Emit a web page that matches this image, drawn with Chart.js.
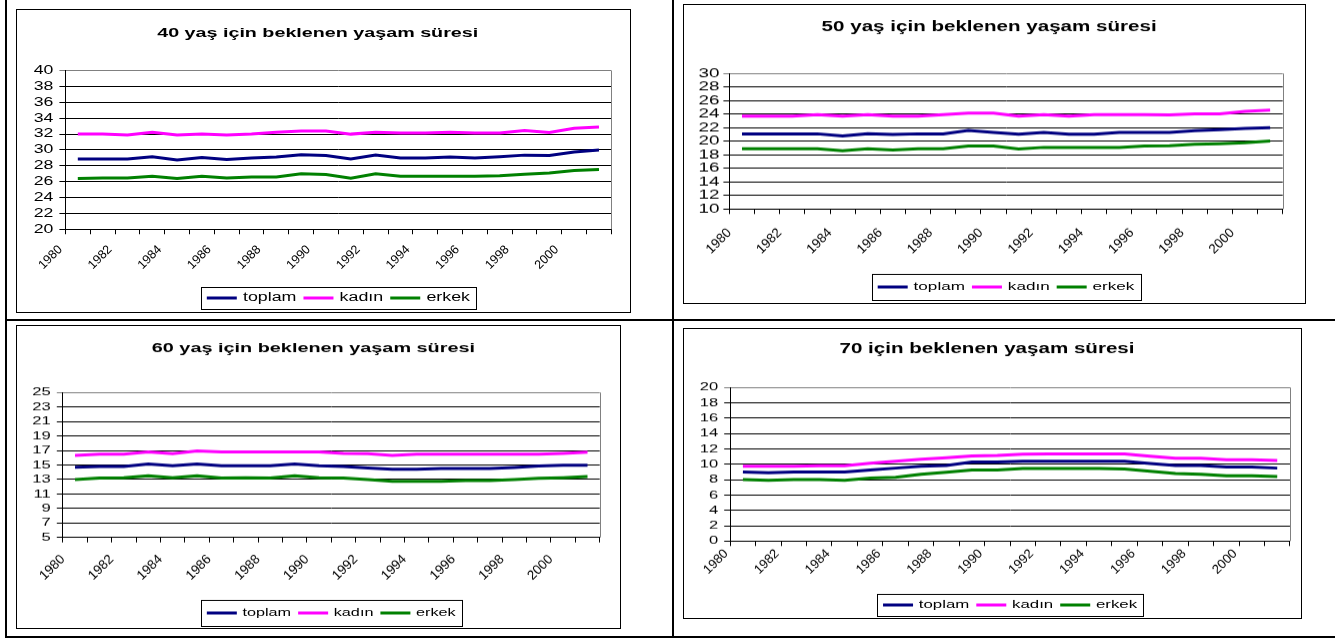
<!DOCTYPE html>
<html>
<head>
<meta charset="utf-8">
<title>Beklenen yaşam süresi</title>
<script src="https://cdn.jsdelivr.net/npm/chart.js@4/dist/chart.umd.min.js"></script>
<style>
  html, body { margin: 0; padding: 0; background: #fff; }
  body { width: 1335px; height: 641px; position: relative; overflow: hidden; }
  .rule { position: absolute; background: #000; }
  .frame { position: absolute; border: 1px solid #000; box-sizing: border-box; pointer-events: none; z-index: 2; }
  .holder { position: absolute; }
</style>
</head>
<body>
<!-- table rules -->
<div class="rule" style="left:5px;top:0;width:2px;height:638px"></div>
<div class="rule" style="left:672px;top:0;width:2px;height:638px"></div>
<div class="rule" style="left:5px;top:319px;width:1330px;height:2px"></div>
<div class="rule" style="left:5px;top:636px;width:1330px;height:2px"></div>

<script>
// ---- data ----
const years = [1980, 1981, 1982, 1983, 1984, 1985, 1986, 1987, 1988, 1989, 1990,
               1991, 1992, 1993, 1994, 1995, 1996, 1997, 1998, 1999, 2000, 2001];
const yearTicks = [1980, 1981, 1982, 1983, 1984, 1985, 1986, 1987, 1988, 1989, 1990, 1991,
                   1992, 1993, 1994, 1995, 1996, 1997, 1998, 1999, 2000, 2001, 2002];
const yearLabels = [1980, 1982, 1984, 1986, 1988, 1990, 1992, 1994, 1996, 1998, 2000];
const seriesNames = ['toplam', 'kadın', 'erkek'];

const toplam40 = [28.85, 28.85, 28.85, 29.15, 28.75, 29.05, 28.8, 29.0, 29.1, 29.4, 29.3,
                  28.85, 29.35, 29.0, 29.0, 29.1, 29.0, 29.15, 29.35, 29.3, 29.75, 30.0];
const kadin40  = [32.0, 32.0, 31.9, 32.25, 31.9, 32.0, 31.9, 32.0, 32.25, 32.4, 32.4,
                  32.0, 32.25, 32.15, 32.15, 32.25, 32.15, 32.15, 32.45, 32.2, 32.75, 32.9];
const erkek40  = [26.4, 26.45, 26.45, 26.7, 26.4, 26.7, 26.45, 26.6, 26.6, 27.0, 26.9,
                  26.45, 27.0, 26.7, 26.7, 26.7, 26.7, 26.75, 26.95, 27.1, 27.4, 27.55];
const yTicks40 = [20, 22, 24, 26, 28, 30, 32, 34, 36, 38, 40];

const toplam50 = [21.1, 21.1, 21.1, 21.1, 20.8, 21.1, 21.0, 21.1, 21.1, 21.6, 21.3,
                  21.05, 21.3, 21.05, 21.05, 21.3, 21.3, 21.3, 21.55, 21.7, 21.9, 22.0];
const kadin50  = [23.7, 23.7, 23.7, 23.95, 23.7, 23.95, 23.7, 23.7, 23.95, 24.15, 24.15,
                  23.7, 23.95, 23.7, 23.95, 23.95, 23.95, 23.9, 24.05, 24.05, 24.4, 24.6];
const erkek50  = [18.9, 18.9, 18.9, 18.9, 18.6, 18.9, 18.7, 18.9, 18.9, 19.3, 19.3,
                  18.85, 19.1, 19.1, 19.1, 19.1, 19.3, 19.35, 19.55, 19.65, 19.8, 20.05];
const yTicks50 = [10, 12, 14, 16, 18, 20, 22, 24, 26, 28, 30];

const toplam60 = [14.7, 14.8, 14.8, 15.15, 14.9, 15.15, 14.9, 14.9, 14.9, 15.15, 14.9,
                  14.8, 14.6, 14.4, 14.4, 14.5, 14.5, 14.5, 14.65, 14.85, 14.95, 14.95];
const kadin60  = [16.3, 16.5, 16.5, 16.8, 16.55, 16.95, 16.8, 16.8, 16.8, 16.8, 16.8,
                  16.6, 16.55, 16.3, 16.5, 16.5, 16.5, 16.5, 16.5, 16.5, 16.6, 16.75];
const erkek60  = [13.0, 13.2, 13.25, 13.5, 13.25, 13.5, 13.2, 13.25, 13.2, 13.5, 13.25,
                  13.2, 13.0, 12.75, 12.75, 12.75, 12.85, 12.85, 13.0, 13.15, 13.25, 13.4];
const yTicks60 = [5, 7, 9, 11, 13, 15, 17, 19, 21, 23, 25];

const toplam70 = [9.0, 8.9, 9.0, 9.0, 9.0, 9.25, 9.5, 9.75, 9.85, 10.3, 10.3,
                  10.4, 10.4, 10.4, 10.4, 10.4, 10.1, 9.85, 9.85, 9.65, 9.65, 9.5];
const kadin70  = [9.75, 9.75, 9.75, 9.8, 9.8, 10.15, 10.4, 10.65, 10.85, 11.1, 11.15,
                  11.3, 11.35, 11.35, 11.35, 11.35, 11.05, 10.8, 10.8, 10.6, 10.6, 10.5];
const erkek70  = [8.0, 7.9, 8.0, 8.0, 7.9, 8.2, 8.3, 8.7, 8.95, 9.25, 9.25,
                  9.45, 9.45, 9.45, 9.45, 9.4, 9.1, 8.8, 8.7, 8.5, 8.5, 8.4];
const yTicks70 = [0, 2, 4, 6, 8, 10, 12, 14, 16, 18, 20];

// ---- styling ----
const FAMILY = "'Liberation Sans', Arial, Helvetica, sans-serif";
const COLORS = ['#000080', '#FF00FF', '#008000'];
const WIDE = 1.45;   // horizontal text is set in a widened face

// Panel geometry: outer frame box, then positions relative to the inner drawing area.
const panels = [
  { title: '40 yaş için beklenen yaşam süresi', series: [toplam40, kadin40, erkek40], yTicks: yTicks40,
    box: [16, 9, 615, 304], plotLeft: 48.4, rightPad: 11.6, titleY: 23, plotTop: 60.7, plotBottom: 219.3,
    legendY: 288, legendHalf: 11, titleFs: 13.6, yFs: 12.2, xFs: 12.5, legendFs: 12.3,
    yPad: 6, xPad: 8, xShift: -5 },
  { title: '50 yaş için beklenen yaşam süresi', series: [toplam50, kadin50, erkek50], yTicks: yTicks50,
    box: [683, 4, 623, 300], plotLeft: 45.4, rightPad: 10.7, titleY: 22, plotTop: 68.3, plotBottom: 203.3,
    legendY: 281, legendHalf: 13, titleFs: 14.2, yFs: 13, xFs: 13.3, legendFs: 11.8,
    yPad: 4, xPad: 11, xShift: 0 },
  { title: '60 yaş için beklenen yaşam süresi', series: [toplam60, kadin60, erkek60], yTicks: yTicks60,
    box: [16, 325, 605, 304], plotLeft: 45.8, rightPad: 10.2, titleY: 22.3, plotTop: 66.3, plotBottom: 210.7,
    legendY: 286, legendHalf: 12.8, titleFs: 13.7, yFs: 11.5, xFs: 13.3, legendFs: 11.2,
    yPad: 6, xPad: 9, xShift: 0 },
  { title: '70 için beklenen yaşam süresi', series: [toplam70, kadin70, erkek70], yTicks: yTicks70,
    box: [683, 328, 619, 291], plotLeft: 46.2, rightPad: 11, titleY: 20.3, plotTop: 58.3, plotBottom: 211.3,
    legendY: 275, legendHalf: 11, titleFs: 14.2, yFs: 11.4, xFs: 13, legendFs: 11.6,
    yPad: 6, xPad: 0, xShift: -4 }
];

// Upright text is drawn widened; rotated axis labels keep their normal shape.
function widenText(ctx) {
  const fill = ctx.fillText.bind(ctx);
  const measure = ctx.measureText.bind(ctx);
  ctx.fillText = function (text, x, y, maxWidth) {
    const m = ctx.getTransform();
    if (Math.abs(m.b) > 1e-6 || Math.abs(m.c) > 1e-6) {
      return maxWidth === undefined ? fill(text, x, y) : fill(text, x, y, maxWidth);
    }
    ctx.save();
    ctx.translate(x, y);
    ctx.scale(WIDE, 1);
    fill(text, 0, 0);
    ctx.restore();
  };
  ctx.measureText = function (text) {
    const m = measure(text);
    return {
      width: m.width * WIDE,
      actualBoundingBoxAscent: m.actualBoundingBoxAscent,
      actualBoundingBoxDescent: m.actualBoundingBoxDescent,
      actualBoundingBoxLeft: m.actualBoundingBoxLeft * WIDE,
      actualBoundingBoxRight: m.actualBoundingBoxRight * WIDE
    };
  };
}

// Grey right edge of the plot area.
const plotEdge = {
  id: 'plotEdge',
  beforeDatasetsDraw(chart) {
    const { ctx, chartArea: a } = chart;
    ctx.save();
    ctx.strokeStyle = '#808080';
    ctx.lineWidth = 1;
    ctx.beginPath();
    const x = Math.round(a.right) + 0.5;
    ctx.moveTo(x, a.top);
    ctx.lineTo(x, a.bottom);
    ctx.stroke();
    ctx.restore();
  }
};

// Outline round the legend entries.
const legendBox = {
  id: 'legendBox',
  afterDraw(chart, args, opts) {
    const boxes = chart.legend && chart.legend.legendHitBoxes;
    if (!boxes || !boxes.length) return;
    const left = Math.min(...boxes.map(b => b.left)) - 6;
    const right = Math.max(...boxes.map(b => b.left + b.width)) + 6;
    const cy = boxes[0].top + boxes[0].height / 2;
    const ctx = chart.ctx;
    ctx.save();
    ctx.strokeStyle = '#000';
    ctx.lineWidth = 1;
    ctx.strokeRect(Math.round(left) + 0.5, Math.round(cy - opts.half) + 0.5,
                   Math.round(right - left), Math.round(opts.half * 2));
    ctx.restore();
  }
};

function buildPanel(p) {
  const [bx, by, bw, bh] = p.box;
  const frame = document.createElement('div');
  frame.className = 'frame';
  Object.assign(frame.style, { left: bx + 'px', top: by + 'px', width: bw + 'px', height: bh + 'px' });
  document.body.appendChild(frame);

  const innerW = bw - 2;
  const canvasH = p.legendY + 10 + p.legendFs / 2;
  const holder = document.createElement('div');
  holder.className = 'holder';
  Object.assign(holder.style, { left: (bx + 1) + 'px', top: (by + 1) + 'px', width: innerW + 'px', height: canvasH + 'px' });
  const canvas = document.createElement('canvas');
  holder.appendChild(canvas);
  document.body.appendChild(holder);
  widenText(canvas.getContext('2d'));

  const legendPad = 7;
  const titleHalf = p.titleFs * 0.6;
  const legendTop = canvasH - p.legendFs - legendPad - 10;
  const xAxisH = legendTop - p.plotBottom;
  const yMin = p.yTicks[0], yMax = p.yTicks[p.yTicks.length - 1];

  const datasets = p.series.map((vals, i) => ({
    label: seriesNames[i],
    data: years.map((yr, j) => ({ x: yr + 0.5, y: vals[j] })),   // each value sits mid-year
    borderColor: COLORS[i],
    backgroundColor: COLORS[i],
    pointBorderColor: COLORS[i],
    pointBackgroundColor: COLORS[i],
    pointBorderWidth: 3,
    borderWidth: 3,
    pointRadius: 0,
    tension: 0,
    fill: false
  }));

  new Chart(canvas, {
    type: 'line',
    data: { datasets },
    options: {
      responsive: true,
      maintainAspectRatio: false,
      animation: false,
      devicePixelRatio: 1,
      events: [],
      layout: { padding: { left: 0, right: p.rightPad, top: 0, bottom: 0 } },
      plugins: {
        title: {
          display: true, text: p.title, color: '#000',
          font: { family: FAMILY, size: p.titleFs, weight: 'bold', lineHeight: 1.2 },
          padding: { top: p.titleY - titleHalf, bottom: p.plotTop - p.titleY - titleHalf }
        },
        legend: {
          position: 'bottom', fullSize: false, align: 'center',
          labels: {
            usePointStyle: true, pointStyle: 'line', pointStyleWidth: 30,
            padding: legendPad, color: '#000',
            font: { family: FAMILY, size: p.legendFs }
          }
        },
        tooltip: { enabled: false },
        legendBox: { half: p.legendHalf }
      },
      scales: {
        x: {
          type: 'linear', min: 1980, max: 2002,
          afterBuildTicks: s => { s.ticks = yearTicks.map(v => ({ value: v })); },
          afterFit: s => { s.height = xAxisH; },
          ticks: {
            autoSkip: false, maxRotation: 45, minRotation: 45,
            padding: p.xPad, labelOffset: p.xShift, color: '#000',
            font: { family: FAMILY, size: p.xFs },
            callback: v => yearLabels.includes(v) ? String(v) : ''
          },
          grid: { drawOnChartArea: false, drawTicks: true, tickLength: 5, color: '#000', lineWidth: 1 },
          border: { display: true, color: '#000', width: 1 }
        },
        y: {
          type: 'linear', min: yMin, max: yMax,
          afterBuildTicks: s => { s.ticks = p.yTicks.map(v => ({ value: v })); },
          afterFit: s => { s.width = p.plotLeft; },
          ticks: {
            autoSkip: false, padding: p.yPad, color: '#000',
            font: { family: FAMILY, size: p.yFs }
          },
          grid: {
            color: c => (c.tick && c.tick.value === yMax) ? '#808080' : '#000',
            lineWidth: 1, tickLength: 6, drawTicks: true
          },
          border: { display: true, color: '#000', width: 1 }
        }
      }
    },
    plugins: [plotEdge, legendBox]
  });
}

panels.forEach(buildPanel);
</script>
</body>
</html>
